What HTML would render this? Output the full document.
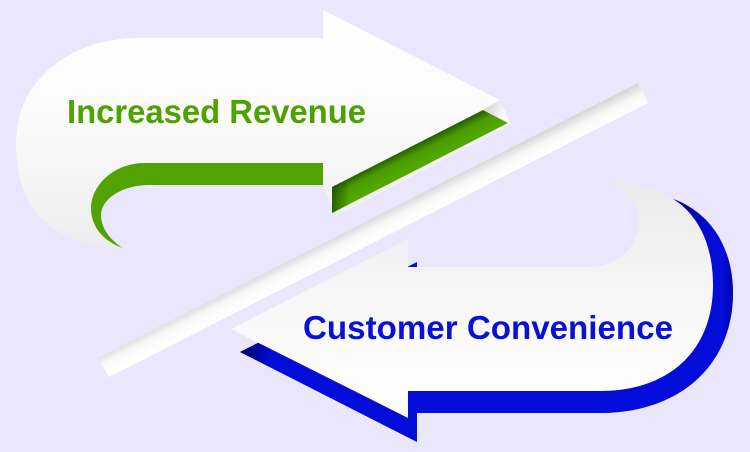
<!DOCTYPE html>
<html>
<head>
<meta charset="utf-8">
<style>
  html,body{margin:0;padding:0;background:#EAE7FD;}
  svg{display:block;}
</style>
</head>
<body>
<svg width="750" height="452" viewBox="0 0 750 452" xmlns="http://www.w3.org/2000/svg">
  <defs>
    <linearGradient id="topWhite" x1="0" y1="10" x2="0" y2="250" gradientUnits="userSpaceOnUse">
      <stop offset="0" stop-color="#ffffff"/>
      <stop offset="0.5" stop-color="#fafafa"/>
      <stop offset="1" stop-color="#ececec"/>
    </linearGradient>
    <linearGradient id="botWhite" x1="0" y1="183" x2="0" y2="418" gradientUnits="userSpaceOnUse">
      <stop offset="0" stop-color="#ebebeb"/>
      <stop offset="0.5" stop-color="#f7f7f7"/>
      <stop offset="1" stop-color="#ffffff"/>
    </linearGradient>
    <linearGradient id="bar" x1="368" y1="220" x2="378" y2="240" gradientUnits="userSpaceOnUse">
      <stop offset="0" stop-color="#d9d9d9"/>
      <stop offset="0.45" stop-color="#f8f8f8"/>
      <stop offset="1" stop-color="#ffffff"/>
    </linearGradient>
    <linearGradient id="slit" x1="410" y1="148" x2="420" y2="168" gradientUnits="userSpaceOnUse">
      <stop offset="0" stop-color="#2a6200"/>
      <stop offset="0.35" stop-color="#4a9c00"/>
      <stop offset="1" stop-color="#53a900"/>
    </linearGradient>
    <linearGradient id="slitLeft" x1="332" y1="0" x2="350" y2="0" gradientUnits="userSpaceOnUse">
      <stop offset="0" stop-color="#1f4d00" stop-opacity="0.8"/>
      <stop offset="1" stop-color="#1f4d00" stop-opacity="0"/>
    </linearGradient>
    <linearGradient id="fold" x1="485" y1="105" x2="505" y2="112" gradientUnits="userSpaceOnUse">
      <stop offset="0" stop-color="#d2d2d2"/>
      <stop offset="1" stop-color="#fbfbfb"/>
    </linearGradient>
    <linearGradient id="blueTip" x1="240" y1="0" x2="272" y2="0" gradientUnits="userSpaceOnUse">
      <stop offset="0" stop-color="#00005e" stop-opacity="1"/>
      <stop offset="1" stop-color="#00005e" stop-opacity="0"/>
    </linearGradient>
    <linearGradient id="blueTop" x1="645" y1="190" x2="700" y2="245" gradientUnits="userSpaceOnUse">
      <stop offset="0" stop-color="#00005e" stop-opacity="1"/>
      <stop offset="1" stop-color="#00005e" stop-opacity="0"/>
    </linearGradient>
    <linearGradient id="blueEdge" x1="700" y1="0" x2="733" y2="0" gradientUnits="userSpaceOnUse">
      <stop offset="0" stop-color="#00005e" stop-opacity="0"/>
      <stop offset="0.7" stop-color="#00005e" stop-opacity="0"/>
      <stop offset="1" stop-color="#00005e" stop-opacity="0.45"/>
    </linearGradient>
    <clipPath id="blueClip">
      <path d="M 240,352 L 417,262 L 417,270 L 660,270 L 655,200 L 645,192 C 708,200 733,245 733,293 C 733,365 680,413 600,413 L 417,413 L 417,442 Z"/>
    </clipPath>
  </defs>

  <rect x="0" y="0" width="750" height="452" fill="#EAE7FD"/>

  <!-- Diagonal bar -->
  <polygon points="638,83 648,103 109,377 98,358" fill="url(#bar)"/>

  <!-- Top arrow (white) -->
  <path d="M 123,248 C 95,249 60,240 38,215 C 22,196 16,170 16,143 C 16,80 70,38 140,38 L 323,38 L 323,10 L 500,100 L 511,124 L 336,216 L 323,185 L 150,185 C 120,185 101,200 101,215 C 101,230 110,242 123,248 Z" fill="url(#topWhite)"/>

  <!-- Green hook band -->
  <path d="M 323,163 L 145,163 C 112,163 91,187 91,208 C 91,228 105,242 123,248 C 110,240 101,228 101,215 C 101,200 120,185 150,185 L 323,185 Z" fill="#50A300"/>

  <!-- Green slit -->
  <polygon points="332,187 483,110 508,123 332,213" fill="url(#slit)"/>
  <polygon points="332,187 350,178 350,204 332,213" fill="url(#slitLeft)"/>
  <!-- Fold -->
  <polygon points="483,110 500,100 510,123" fill="url(#fold)"/>

  <!-- Bottom arrow blue shadow -->
  <path d="M 240,352 L 417,262 L 417,270 L 660,270 L 655,200 L 645,192 C 708,200 733,245 733,293 C 733,365 680,413 600,413 L 417,413 L 417,442 Z" fill="#030CD8"/>
  <g clip-path="url(#blueClip)">
    <rect x="230" y="320" width="50" height="60" fill="url(#blueTip)"/>
    <rect x="630" y="180" width="120" height="90" fill="url(#blueTop)"/>
    <rect x="690" y="230" width="60" height="150" fill="url(#blueEdge)"/>
  </g>

  <!-- Bottom arrow (white) -->
  <path d="M 231,329 L 408,239 L 408,267 L 590,267 C 615,267 639,248 639,222 C 639,203 628,188 610,183 C 690,183 713,235 713,285 C 713,350 670,391 600,391 L 408,391 L 408,418 Z" fill="url(#botWhite)"/>

  <!-- Labels -->
  <text x="67" y="123" font-family="'Liberation Sans', Arial, sans-serif" font-weight="bold" font-size="33" fill="#4EA200" textLength="299" lengthAdjust="spacingAndGlyphs">Increased Revenue</text>
  <text x="303" y="339" font-family="'Liberation Sans', Arial, sans-serif" font-weight="bold" font-size="33" fill="#0A10D6" textLength="370" lengthAdjust="spacingAndGlyphs">Customer Convenience</text>
</svg>
</body>
</html>
